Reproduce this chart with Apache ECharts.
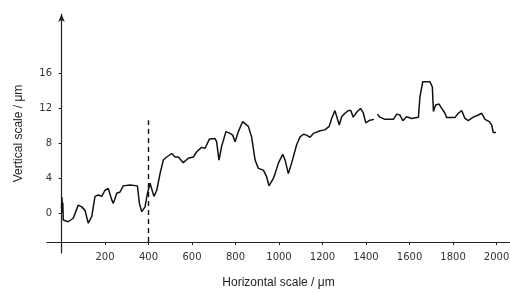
<!DOCTYPE html>
<html>
<head>
<meta charset="utf-8">
<script src="https://cdn.jsdelivr.net/npm/echarts@6/dist/echarts.min.js"></script>
<style>
  html, body { margin: 0; padding: 0; background: #fff; }
  #chart { width: 510px; height: 293px; }
</style>
</head>
<body>
<div id="chart"></div>
<script>
// surface profile (µm)
const profileX = [0, 2, 4, 6, 8, 31, 54, 77, 93, 108, 123, 139, 154, 169, 185, 200, 215, 231, 238, 254,
  269, 284, 315, 349, 358, 369, 384, 395, 407, 425, 438, 453, 468, 484, 507, 522, 537, 560, 583, 606,
  622, 644, 660, 680, 706, 713, 724, 736, 756, 775, 787, 798, 813, 833, 859, 874, 890, 905, 928, 943,
  954, 974, 982, 997, 1017, 1028, 1043, 1058, 1081, 1097, 1112, 1127, 1143, 1158, 1189, 1211, 1231, 1242, 1257, 1265,
  1277, 1288, 1303, 1319, 1330, 1341, 1360, 1375, 1388, 1399, 1418, 1437, 1445, 1452, 1464, 1487, 1526, 1541, 1556, 1569,
  1587, 1610, 1641, 1648, 1661, 1694, 1705, 1710, 1720, 1736, 1748, 1763, 1771, 1809, 1824, 1840, 1855, 1870, 1893, 1916,
  1932, 1947, 1967, 1978, 1985, 1998];
const profileY = [0.5, 1.8, 0.0, 1.2, -0.8, -1.0, -0.6, 0.9, 0.7, 0.3, -1.15, -0.4, 1.9, 2.05, 1.9, 2.6, 2.8, 1.5, 1.1, 2.25,
  2.4, 3.1, 3.2, 3.1, 1.1, 0.15, 0.7, 2.25, 3.4, 1.9, 2.6, 4.5, 6.05, 6.4, 6.8, 6.4, 6.4, 5.75, 6.25, 6.4,
  7.0, 7.5, 7.4, 8.45, 8.5, 8.15, 6.05, 7.6, 9.3, 9.1, 8.9, 8.15, 9.3, 10.45, 9.9, 8.7, 6.05, 5.1, 4.9, 4.15,
  3.1, 3.95, 4.5, 5.7, 6.7, 6.05, 4.5, 5.7, 7.8, 8.7, 9.0, 8.9, 8.65, 9.1, 9.4, 9.5, 9.9, 10.8, 11.7, 11.6,
  10.05, 11.0, 11.4, 11.7, 11.7, 10.95, 11.6, 11.95, 11.4, 10.3, 10.6, 10.7, null, 11.3, 10.95, 10.7, 10.7, 11.3, 11.2, 10.55,
  11.0, 10.8, 10.95, 13.3, 15.0, 15.0, 14.4, 11.6, 12.35, 12.45, 11.95, 11.4, 10.9, 10.9, 11.4, 11.7, 10.8, 10.55, 10.95, 11.2,
  11.4, 10.7, 10.45, 10.05, 9.2, 9.2];

// dashed marker line
const markerX = [400, 400];
const markerY = [-3.3, 10.6];

const xTicks = [0, 200, 400, 600, 800, 1000, 1200, 1400, 1600, 1800, 2000];
const xLabels = [200, 400, 600, 800, 1000, 1200, 1400, 1600, 1800, 2000];
const yTicks = [0, 4, 8, 12, 16];

const chart = echarts.init(document.getElementById("chart"));

const profileData = profileX.map((x, i) => [x, profileY[i]]);
const markerData = markerX.map((x, i) => [x, markerY[i]]);

chart.setOption({
  animation: false,
  backgroundColor: "#fff",
  grid: {
    left: 47,
    right: 0,
    top: 14,
    bottom: 40,
    outerBoundsMode: "none",
  },
  xAxis: {
    type: "value",
    min: -66.7,
    max: 2062,
    offset: -11,
    name: "Horizontal scale / μm",
    nameLocation: "middle",
    nameGap: 35,
    nameTextStyle: { fontFamily: "Liberation Sans", fontSize: 12, color: "#222" },
    axisLine: { onZero: false, lineStyle: { color: "#222", width: 1.2 } },
    axisTick: { show: true, length: 3, lineStyle: { color: "#222" }, customValues: xTicks },
    axisLabel: {
      fontFamily: "DejaVu Sans", fontSize: 10, color: "#333", margin: 10,
      customValues: xLabels,
      formatter: (v) => String(v),
    },
    splitLine: { show: false },
  },
  yAxis: {
    type: "value",
    min: -4.57,
    max: 22.74,
    name: "Vertical scale / μm",
    nameLocation: "middle",
    nameRotate: 90,
    nameGap: 22,
    nameTextStyle: { fontFamily: "Liberation Sans", fontSize: 12, color: "#222" },
    axisLine: {
      onZero: true,
      symbol: ["none", "arrow"],
      symbolSize: [5, 8],
      lineStyle: { color: "#222", width: 1.2 },
    },
    axisTick: { show: true, length: 3, inside: false, lineStyle: { color: "#222" }, customValues: yTicks },
    axisLabel: {
      fontFamily: "DejaVu Sans", fontSize: 10, color: "#333", margin: -5,
      customValues: yTicks,
    },
    splitLine: { show: false },
  },
  series: [
    {
      type: "line",
      data: profileData,
      showSymbol: false,
      connectNulls: false,
      lineStyle: { color: "#111", width: 1.5 },
    },
    {
      type: "line",
      data: markerData,
      showSymbol: false,
      lineStyle: { color: "#111", width: 1.4, type: [5, 4] },
    },
  ],
});
</script>
</body>
</html>
